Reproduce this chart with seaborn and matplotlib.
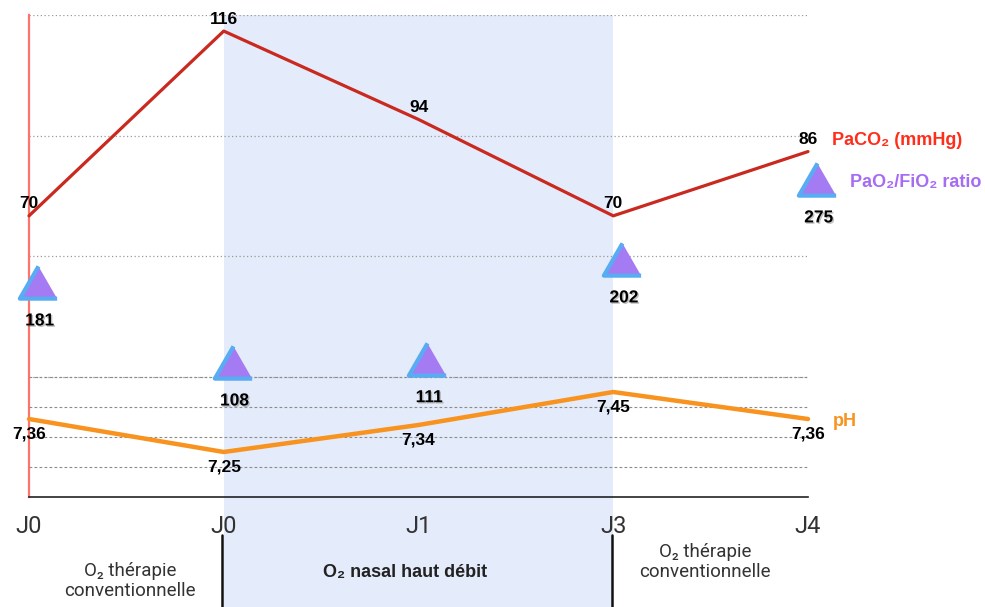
import numpy as np
import matplotlib
matplotlib.use("Agg")
import matplotlib.pyplot as plt
import matplotlib.patheffects as pe
from matplotlib.patches import Rectangle
from matplotlib.transforms import blended_transform_factory
import seaborn as sns

# ── Data ──────────────────────────────────────────────────────────────────────

DAYS      = ["J0", "J0", "J1", "J3", "J4"]
PACO2     = [70, 116, 94, 70, 86]                  # mmHg
PH        = [7.36, 7.25, 7.34, 7.45, 7.36]
PH_LABELS = ["7,36", "7,25", "7,34", "7,45", "7,36"]
RATIO     = [181, 108, 111, 202, 275]              # PaO2/FiO2

PACO2_GRID = [30, 60, 90, 120]
PH_GRID    = [7.2, 7.3, 7.4, 7.5]

PHASES   = ["O₂ thérapie\nconventionnelle", "O₂ nasal haut débit", "O₂ thérapie\nconventionnelle"]
HFNO_SPAN = (1, 3)     # index of first / last day under high-flow nasal O2

# ── Style ─────────────────────────────────────────────────────────────────────

RED    = "#C9291E"
ORANGE = "#F7931E"
PURPLE = "#A57BF3"
BLUE   = "#57ACF2"
BAND   = "#E4EBFA"
TXT    = "#222222"

sns.set_style("white")
plt.rcParams["font.family"] = ["Liberation Sans", "DejaVu Sans"]
LIGHT = ["Roboto", "Liberation Sans", "DejaVu Sans"]

W, H = 985, 607
fig = plt.figure(figsize=(W / 100, H / 100), dpi=100)
ax = fig.add_axes([29 / W, 1 - 497 / H, (808 - 29) / W, (497 - 15) / H])
ax_ph = ax.twinx()
ax_ratio = ax.twinx()

x = np.arange(len(DAYS))
ratio_x = x + 0.045

# shaded high-flow period, running down through the phase labels
blend = blended_transform_factory(ax.transData, fig.transFigure)
ax.add_patch(Rectangle((HFNO_SPAN[0], 0), HFNO_SPAN[1] - HFNO_SPAN[0], 1 - 15 / H,
                       transform=blend, facecolor=BAND, edgecolor="none",
                       zorder=0, clip_on=False))
for b in HFNO_SPAN:
    ax.plot([b - 0.008, b - 0.008], [0, 1 - 535 / H], transform=blend, color="#111111",
            linewidth=1.8, clip_on=False, zorder=3)

# ── Series ────────────────────────────────────────────────────────────────────

sns.lineplot(x=x, y=PACO2, ax=ax, color=RED, linewidth=2.3, zorder=4)
sns.lineplot(x=x, y=PH, ax=ax_ph, color=ORANGE, linewidth=3.2, zorder=4)

tri = [(0, 0.866), (-1, -0.866), (1, -0.866)]
sns.scatterplot(x=ratio_x, y=RATIO, ax=ax_ratio, marker=tri, s=720,
                color=PURPLE, edgecolor=BLUE, linewidth=3.0, zorder=5)

for a in (ax, ax_ph, ax_ratio):
    for art in a.lines + a.collections:
        art.set_clip_on(False)

ax.set_xlim(0, 4)
ax.set_ylim(0, 120)
ax_ph.set_ylim(7.1, 7.1 + 482 / 300)
ax_ratio.set_ylim(-15.2, 424.5)

# ── Grid, spines, ticks ───────────────────────────────────────────────────────

ax.set_axisbelow(True)
ax.set_yticks(PACO2_GRID)
ax.grid(axis="y", color="#9a9a9a", linestyle=(0, (1, 2)), linewidth=0.9)
ax.grid(axis="x", visible=False)
ax_ph.set_yticks(PH_GRID)
ax_ph.grid(axis="y", color="#8c8c8c", linestyle=(0, (2.5, 2)), linewidth=0.8)

ax.tick_params(axis="y", length=0, labelleft=False)
for a in (ax_ph, ax_ratio):
    a.tick_params(axis="y", length=0, right=False, labelright=False)
    for s in a.spines.values():
        s.set_visible(False)
    a.set_ylabel("")

ax.spines["top"].set_visible(False)
ax.spines["right"].set_visible(False)
ax.spines["left"].set_color("#FF7468")
ax.spines["left"].set_linewidth(1.6)
ax.spines["bottom"].set_color("#222222")
ax.spines["bottom"].set_linewidth(1.2)

ax.set_xticks(x)
ax.set_xticklabels(DAYS, fontsize=17, color="#333333", family=LIGHT, fontweight="normal")
ax.tick_params(axis="x", length=0, pad=13)
ax.set_xlabel("")
ax.set_ylabel("")

# ── Value labels ──────────────────────────────────────────────────────────────

for xi, v in zip(x, PACO2):
    ax.annotate(str(v), (xi, v), xytext=(0, 12), textcoords="offset pixels",
                ha="center", va="center", fontsize=12.5, fontweight="bold",
                color="black", annotation_clip=False)

shadow = [pe.withSimplePatchShadow(offset=(1, -1), shadow_rgbFace="#777777", alpha=0.45)]
for xi, v in zip(ratio_x, RATIO):
    ax_ratio.annotate(str(v), (xi, v), xytext=(2, -39), textcoords="offset pixels",
                      ha="center", va="center", fontsize=12.5, fontweight="bold",
                      color="black", path_effects=shadow, annotation_clip=False)

for xi, v, lab in zip(x, PH, PH_LABELS):
    ax_ph.annotate(lab, (xi, v), xytext=(0, -15), textcoords="offset pixels",
                   ha="center", va="center", fontsize=12.5, fontweight="bold",
                   color="black", annotation_clip=False)

# series names next to the last point
ax.annotate("PaCO₂ (mmHg)", (x[-1], PACO2[-1]), xytext=(24, 11), textcoords="offset pixels",
            ha="left", va="center", fontsize=13, fontweight="bold", color="#FF2D1A",
            annotation_clip=False)
ax_ratio.annotate("PaO₂/FiO₂ ratio", (ratio_x[-1], RATIO[-1]), xytext=(33, -4),
                  textcoords="offset pixels", ha="left", va="center", fontsize=13,
                  fontweight="bold", color="#A66CF3", annotation_clip=False)
ax_ph.annotate("pH", (x[-1], PH[-1]), xytext=(25, -3), textcoords="offset pixels",
               ha="left", va="center", fontsize=13, fontweight="bold", color=ORANGE,
               annotation_clip=False)

# ── Treatment phases under the axis ───────────────────────────────────────────

phase_pos = [(0.52, 1 - 581 / H), (1.93, 1 - 573 / H), (3.47, 1 - 562 / H)]
for (px, py), lab, bold in zip(phase_pos, PHASES, [False, True, False]):
    ax.text(px, py, lab, transform=blend, ha="center", va="center",
            multialignment="center", linespacing=1.15, color=TXT if bold else "#333333",
            fontsize=13 if bold else 13.5,
            family=["Liberation Sans", "DejaVu Sans"] if bold else LIGHT,
            fontweight="bold" if bold else "normal")

fig.savefig("out.png", dpi=100)
